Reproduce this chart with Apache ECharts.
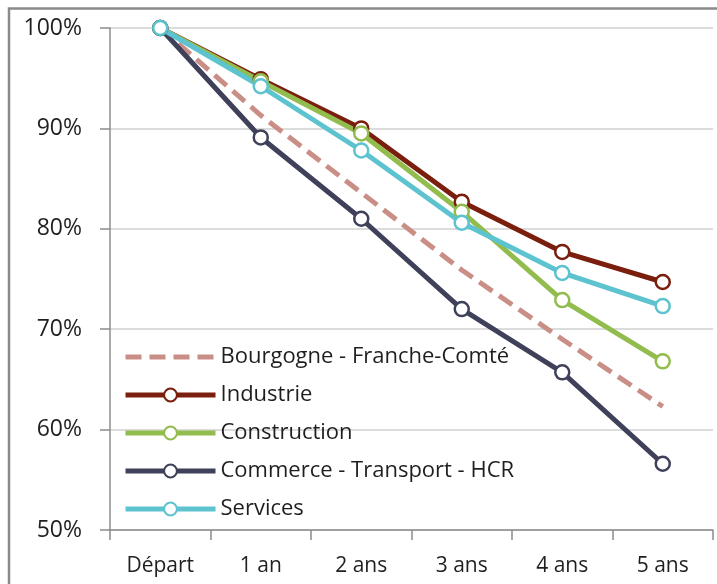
<!DOCTYPE html>
<html style="height: 100%">
<head>
    <meta charset="utf-8">
    <script src="https://cdn.jsdelivr.net/npm/echarts@6/dist/echarts.min.js"></script>
</head>
<body style="height: 100%; margin: 0; background: #fff">
<div id="container" style="width: 717px; height: 584px"></div>
<script type="text/javascript">
    // categories and values (percent of starting firms still alive)
    var categories = ['Départ', '1 an', '2 ans', '3 ans', '4 ans', '5 ans'];
    var yTicks = [50, 60, 70, 80, 90, 100];
    var bourgogne = [100, 91.3, 83.6, 75.9, 69.0, 62.3];
    var industrie = [100, 94.9, 90.0, 82.7, 77.7, 74.7];
    var construction = [100, 94.7, 89.5, 81.7, 72.9, 66.8];
    var commerce = [100, 89.1, 81.0, 72.0, 65.7, 56.6];
    var services = [100, 94.2, 87.8, 80.6, 75.6, 72.3];

    var dom = document.getElementById("container");
    var myChart = echarts.init(dom);
    var font = 'Open Sans';

    function lineSerie(name, data, color) {
        return {
            name: name,
            type: 'line',
            data: data,
            symbol: 'circle',
            symbolSize: 14,
            showSymbol: true,
            lineStyle: {color: color, width: 5},
            itemStyle: {color: '#fff', borderColor: color, borderWidth: 2.5},
            emphasis: {disabled: true},
            z: 3
        };
    }

    var option = {
        animation: false,
        textStyle: {fontFamily: font},
        graphic: [{
            type: 'rect',
            shape: {x: 9, y: 8.5, width: 720, height: 600},
            style: {fill: 'none', stroke: '#8a8a8a', lineWidth: 2.5},
            silent: true
        }],
        grid: {left: 110, right: 4, top: 28, bottom: 54},
        legend: {
            orient: 'vertical',
            left: 118,
            top: 338,
            itemWidth: 90,
            itemHeight: 16,
            itemGap: 10,
            lineStyle: {width: 5},
            textStyle: {fontFamily: font, fontSize: 22, color: '#1f1f1f', lineHeight: 28},
            data: [
                {name: 'Bourgogne - Franche-Comté', itemStyle: {color: 'rgba(0,0,0,0)', borderWidth: 0}},
                'Industrie', 'Construction', 'Commerce - Transport - HCR', 'Services'
            ]
        },
        xAxis: {
            type: 'category',
            data: categories,
            boundaryGap: true,
            axisLine: {lineStyle: {color: '#8c8c8c', width: 1.5}},
            axisTick: {show: true, length: 10, lineStyle: {color: '#8c8c8c', width: 1.5}},
            axisLabel: {margin: 26, fontSize: 21, color: '#1f1f1f', fontFamily: font},
            splitLine: {show: false}
        },
        yAxis: {
            type: 'value',
            min: yTicks[0],
            max: yTicks[yTicks.length - 1],
            interval: 10,
            axisLine: {show: true, lineStyle: {color: '#8c8c8c', width: 1.5}},
            axisTick: {show: true, length: 10, lineStyle: {color: '#8c8c8c', width: 1.5}},
            axisLabel: {margin: 28, fontSize: 23, color: '#1f1f1f', fontFamily: font, formatter: '{value}%'},
            splitLine: {show: true, lineStyle: {color: '#d0d0d0', width: 1.5}}
        },
        series: [
            {
                name: 'Bourgogne - Franche-Comté',
                type: 'line',
                data: bourgogne,
                symbol: 'none',
                lineStyle: {color: '#c98f86', width: 5, type: [16, 8]},
                itemStyle: {color: '#c98f86'},
                emphasis: {disabled: true},
                z: 2
            },
            lineSerie('Industrie', industrie, '#7a1e0e'),
            lineSerie('Construction', construction, '#93bc4e'),
            lineSerie('Commerce - Transport - HCR', commerce, '#3e4159'),
            lineSerie('Services', services, '#5cc3cf')
        ]
    };
    myChart.setOption(option, true);
</script>
</body>
</html>
